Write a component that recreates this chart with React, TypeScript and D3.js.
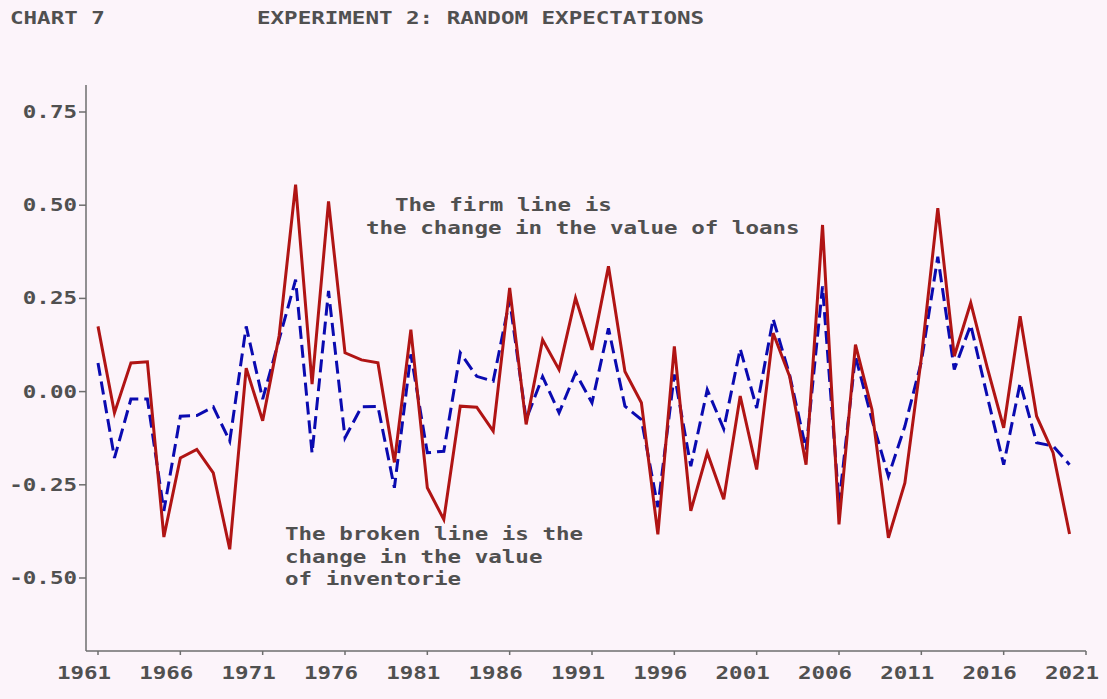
import React from "react";
import * as d3 from "d3";

const years: number[] = d3.range(1961, 2021);

const loans: number[] = [
  0.175, -0.057, 0.077, 0.08, -0.39, -0.178, -0.155, -0.218, -0.423, 0.063,
  -0.078, 0.15, 0.555, 0.02, 0.51, 0.104, 0.085, 0.077, -0.19, 0.166,
  -0.258, -0.343, -0.039, -0.042, -0.106, 0.278, -0.088, 0.139, 0.059, 0.251,
  0.112, 0.336, 0.054, -0.03, -0.383, 0.121, -0.32, -0.164, -0.289, -0.012,
  -0.209, 0.157, 0.041, -0.196, 0.447, -0.356, 0.126, -0.048, -0.392, -0.245,
  0.09, 0.492, 0.095, 0.238, 0.065, -0.097, 0.202, -0.066, -0.164, -0.382,
];

const inventories: number[] = [
  0.077, -0.178, -0.02, -0.02, -0.32, -0.066, -0.064, -0.041, -0.133, 0.175,
  -0.02, 0.14, 0.3, -0.165, 0.27, -0.124, -0.041, -0.04, -0.258, 0.1,
  -0.164, -0.16, 0.104, 0.041, 0.028, 0.246, -0.075, 0.04, -0.057, 0.05,
  -0.03, 0.17, -0.039, -0.075, -0.31, 0.046, -0.2, 0.005, -0.1, 0.115,
  -0.044, 0.195, 0.045, -0.155, 0.282, -0.3, 0.095, -0.075, -0.227, -0.093,
  0.08, 0.362, 0.059, 0.179, -0.012, -0.196, 0.023, -0.137, -0.146, -0.196,
];

const yTicks: number[] = [-0.5, -0.25, 0, 0.25, 0.5, 0.75];
const xTicks: number[] = d3.range(1961, 2022, 5);

const titleLeft = "CHART 7";
const titleMain = "EXPERIMENT 2: RANDOM EXPECTATIONS";
const firmNote = ["The firm line is", "the change in the value of loans"];
const brokenNote = ["The broken line is the", "change in the value", "of inventorie"];

const W = 1107;
const H = 699;
const CH = 13.55; // char advance of the monospace bitmap-like font
const TEXT = "#505050";
const AXIS = "#6e6e6e";
const RED = "#b01414";
const BLUE = "#0a0ab0";
const BG = "#fcf4fa";

const x = d3.scaleLinear().domain([1961, 2021]).range([98, 1086]);
const y = d3.scaleLinear().domain([-0.5, 0.75]).range([578, 112]);

const axisX0 = 86;
const axisY0 = 651;
const axisTop = 85;

function T({ x: tx, y: ty, s, anchor }: { x: number; y: number; s: string; anchor?: string }) {
  return (
    <text
      x={tx}
      y={ty}
      textAnchor={anchor || "start"}
      textLength={s.length * CH}
      lengthAdjust="spacingAndGlyphs"
      fontFamily="'DejaVu Sans Mono', monospace"
      fontWeight="bold"
      fontSize={17}
      fill={TEXT}
      style={{ whiteSpace: "pre" }}
    >
      {s}
    </text>
  );
}

export default function App() {
  const line = d3
    .line<number>()
    .x((_, i) => x(years[i]))
    .y((d) => y(d));

  return (
    <svg
      width={W}
      height={H}
      style={{ position: "absolute", left: 0, top: 0, display: "block" }}
    >
      <rect x={0} y={0} width={W} height={H} fill={BG} />

      <T x={10} y={24} s={titleLeft} />
      <T x={257} y={24} s={titleMain} />

      {/* axes */}
      <line x1={axisX0} y1={axisTop} x2={axisX0} y2={axisY0} stroke={AXIS} strokeWidth={1.5} />
      <line x1={axisX0} y1={axisY0} x2={x(2021)} y2={axisY0} stroke={AXIS} strokeWidth={1.5} />

      {yTicks.map((v) => (
        <g key={"y" + v}>
          <line x1={79} x2={axisX0} y1={y(v)} y2={y(v)} stroke={AXIS} strokeWidth={1.5} />
          <T x={77} y={y(v) + 6} s={d3.format(".2f")(v).replace("−", "-")} anchor="end" />
        </g>
      ))}

      {xTicks.map((t) => (
        <g key={"x" + t}>
          <line x1={x(t)} x2={x(t)} y1={axisY0} y2={axisY0 + 4} stroke={AXIS} strokeWidth={1.5} />
          <T x={x(t) - 14} y={679} s={String(t)} anchor="middle" />
        </g>
      ))}

      {/* series */}
      <path
        d={line(inventories) || ""}
        fill="none"
        stroke={BLUE}
        strokeWidth={3}
        strokeDasharray="13,6"
        strokeLinejoin="miter"
      />
      <path d={line(loans) || ""} fill="none" stroke={RED} strokeWidth={3} strokeLinejoin="miter" />

      {/* annotations */}
      <T x={395} y={211} s={firmNote[0]} />
      <T x={366} y={234} s={firmNote[1]} />
      {brokenNote.map((s, i) => (
        <T key={s} x={285} y={540 + i * 22.5} s={s} />
      ))}
    </svg>
  );
}
